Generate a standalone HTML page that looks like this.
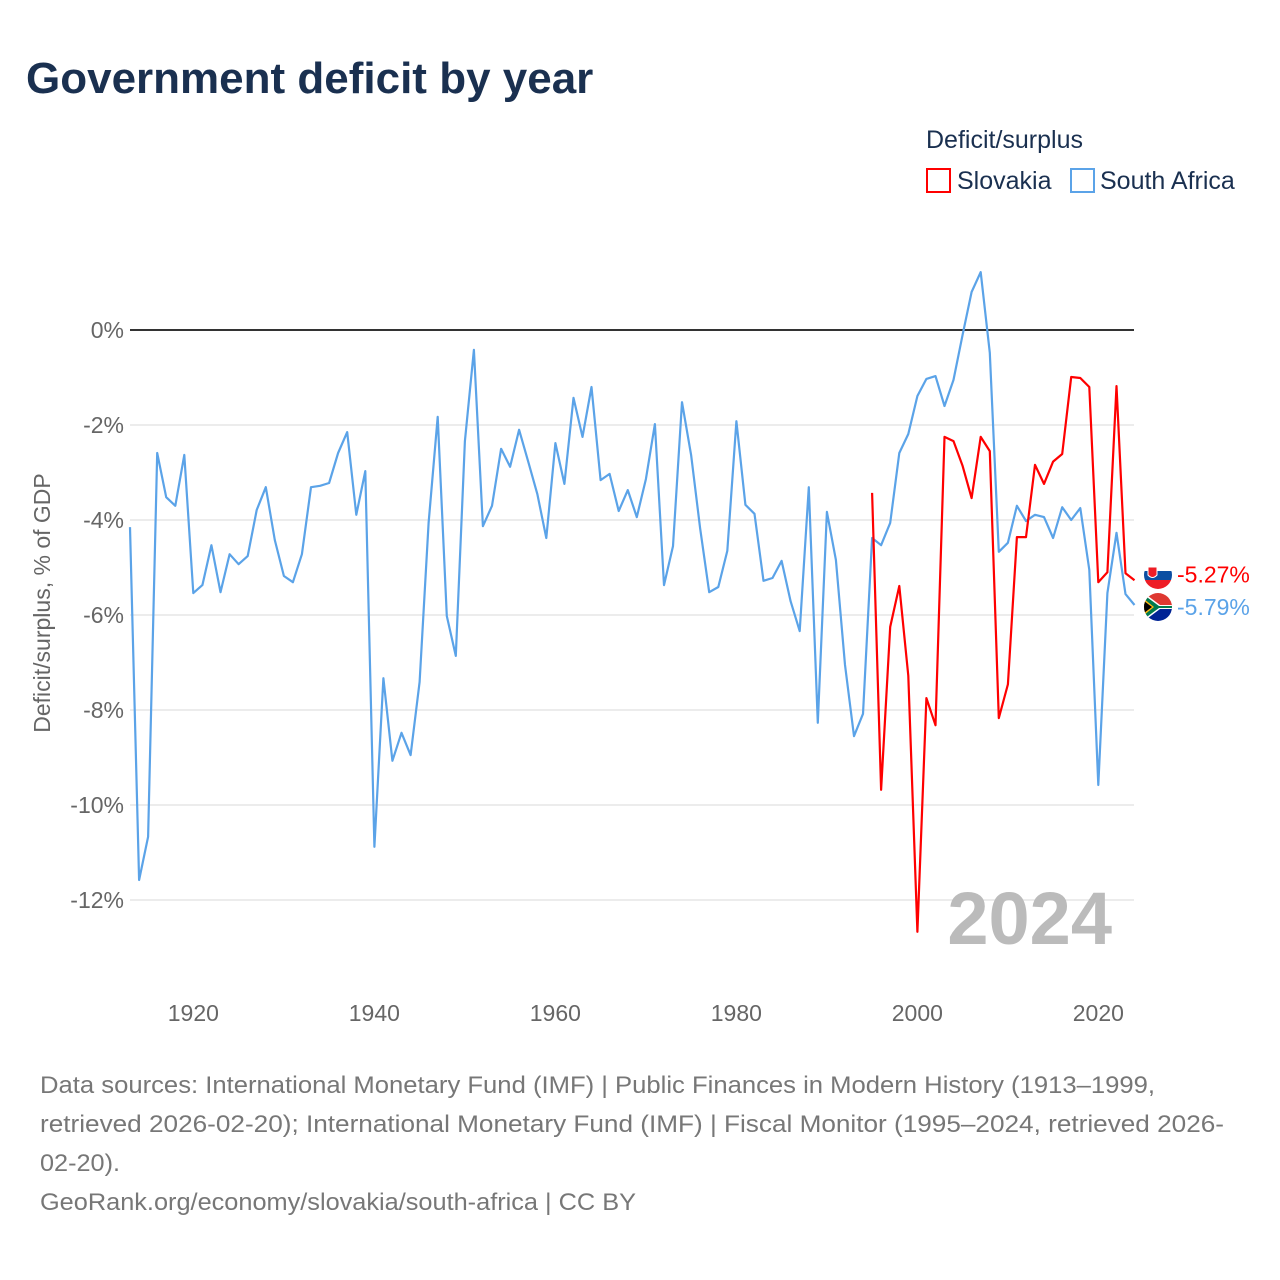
<!DOCTYPE html>
<html><head><meta charset="utf-8">
<style>
body{margin:0;background:#fff;font-family:"Liberation Sans",sans-serif;}
svg{display:block}
</style></head>
<body>
<svg width="1280" height="1280" viewBox="0 0 1280 1280" id="chart">
<defs>
<clipPath id="c1"><circle cx="1158" cy="575" r="14"/></clipPath>
<clipPath id="c2"><circle cx="1158" cy="607" r="14"/></clipPath>
</defs>
<rect width="1280" height="1280" fill="#fff"/>
<text x="26" y="93" font-size="44" font-weight="bold" fill="#1a3050">Government deficit by year</text>
<text x="926" y="148" font-size="25" fill="#1a3050">Deficit/surplus</text>
<g><rect x="927" y="169" width="23" height="23" fill="none" stroke="#f00" stroke-width="2"/><text x="957" y="189" font-size="25" fill="#1a3050">Slovakia</text></g>
<g><rect x="1071" y="169" width="23" height="23" fill="none" stroke="#5ba3e8" stroke-width="2"/><text x="1100" y="189" font-size="25" fill="#1a3050">South Africa</text></g>
<text transform="translate(50,603) rotate(-90)" text-anchor="middle" font-size="23" fill="#666">Deficit/surplus, % of GDP</text>
<g id="grid"></g>
<text x="1112" y="944" text-anchor="end" font-size="74" font-weight="bold" fill="#bbb">2024</text>
<g id="series"></g>
<g font-size="24" fill="#777">
<text x="40" y="1093" textLength="1115" lengthAdjust="spacingAndGlyphs">Data sources: International Monetary Fund (IMF) | Public Finances in Modern History (1913–1999,</text>
<text x="40" y="1132" textLength="1184" lengthAdjust="spacingAndGlyphs">retrieved 2026-02-20); International Monetary Fund (IMF) | Fiscal Monitor (1995–2024, retrieved 2026-</text>
<text x="40" y="1171" textLength="80" lengthAdjust="spacingAndGlyphs">02-20).</text>
<text x="40" y="1210" textLength="596" lengthAdjust="spacingAndGlyphs">GeoRank.org/economy/slovakia/south-africa | CC BY</text>
</g>
</svg>
<script>
const yTicks=[0,-2,-4,-6,-8,-10,-12];
const xTicks=[1920,1940,1960,1980,2000,2020];
const saStart=1913;
const southAfrica=[-4.15,-11.58,-10.67,-2.59,-3.52,-3.7,-2.63,-5.54,-5.37,-4.53,-5.52,-4.72,-4.93,-4.76,-3.79,-3.31,-4.42,-5.18,-5.31,-4.72,-3.31,-3.28,-3.22,-2.59,-2.15,-3.89,-2.97,-10.88,-7.33,-9.07,-8.48,-8.95,-7.41,-4.06,-1.83,-6.02,-6.86,-2.34,-0.42,-4.13,-3.7,-2.5,-2.88,-2.1,-2.77,-3.45,-4.38,-2.38,-3.24,-1.43,-2.25,-1.2,-3.16,-3.03,-3.81,-3.37,-3.94,-3.14,-1.98,-5.37,-4.55,-1.52,-2.63,-4.17,-5.52,-5.41,-4.65,-1.92,-3.68,-3.87,-5.28,-5.22,-4.86,-5.71,-6.34,-3.31,-8.27,-3.83,-4.84,-7.05,-8.55,-8.08,-4.38,-4.53,-4.06,-2.59,-2.19,-1.39,-1.03,-0.97,-1.6,-1.05,-0.1,0.8,1.22,-0.48,-4.67,-4.48,-3.7,-4.02,-3.89,-3.94,-4.38,-3.73,-4.0,-3.75,-5.05,-9.58,-5.54,-4.27,-5.56,-5.79];
const skStart=1995;
const slovakia=[-3.43,-9.68,-6.25,-5.39,-7.28,-12.67,-7.75,-8.32,-2.25,-2.34,-2.86,-3.54,-2.25,-2.55,-8.17,-7.46,-4.36,-4.36,-2.84,-3.24,-2.77,-2.61,-0.99,-1.01,-1.2,-5.31,-5.1,-1.18,-5.12,-5.27];
const X=yr=>130+(yr-1913)*(1098-193)/100;
const Y=v=>330-v*47.5;
const NS="http://www.w3.org/2000/svg";
function mk(t,a,p){const e=document.createElementNS(NS,t);for(const k in a)e.setAttribute(k,a[k]);p.appendChild(e);return e;}
const grid=document.getElementById('grid');
yTicks.forEach(v=>{
  const l=mk('line',{x1:130,x2:1134,y1:Y(v),y2:Y(v),stroke:v===0?'#333':'#e6e6e6','stroke-width':v===0?2:1.5},grid);
  
  
  const t=mk('text',{x:124,y:Y(v)+8,'text-anchor':'end','font-size':23,fill:'#666'},grid);
  t.textContent=v+'%';
  
  
});
xTicks.forEach(yr=>{
  const t=mk('text',{x:X(yr),y:1021,'text-anchor':'middle','font-size':23,fill:'#666'},grid);
  t.textContent=yr;
  
  
});
const sg=document.getElementById('series');
function line(data,start,color,name){
  const pts=data.map((v,i)=>X(start+i).toFixed(1)+','+Y(v).toFixed(1)).join(' ');
  const p=mk('polyline',{points:pts,fill:'none',stroke:color,'stroke-width':2.2,'stroke-linejoin':'round'},sg);
  
  
}
line(southAfrica,saStart,'#5ba3e8','series-south-africa');
line(slovakia,skStart,'#f00','series-slovakia');
const skLast=slovakia[slovakia.length-1], saLast=southAfrica[southAfrica.length-1];
// Slovakia flag
const f1=mk('g',{'clip-path':'url(#c1)'},sg);


mk('rect',{x:1144,y:561,width:28,height:10,fill:'#fff'},f1);
mk('rect',{x:1144,y:571,width:28,height:9,fill:'#0b4ea2'},f1);
mk('rect',{x:1144,y:580,width:28,height:10,fill:'#ee1c25'},f1);
mk('path',{d:'M1148 567 h9 v8 q-4.5 5 -9 0 z',fill:'#ee1c25',stroke:'#fff','stroke-width':1},f1);
// South Africa flag
const f2=mk('g',{'clip-path':'url(#c2)'},sg);


mk('rect',{x:1144,y:593,width:28,height:14,fill:'#de3831'},f2);
mk('rect',{x:1144,y:607,width:28,height:14,fill:'#002395'},f2);
mk('path',{d:'M1144 593 L1160 605 H1172 V609 H1160 L1144 621 Z',fill:'#fff'},f2);
mk('path',{d:'M1144 595 L1159 606 H1172 V608 H1159 L1144 619 Z',fill:'#007a4d'},f2);
mk('path',{d:'M1144 599 L1154 607 L1144 615 Z',fill:'#ffb612'},f2);
mk('path',{d:'M1144 601 L1152 607 L1144 613 Z',fill:'#000'},f2);
const t1=mk('text',{x:1177,y:Y(skLast)+2,'font-size':23,fill:'#f00'},sg);
t1.textContent=skLast.toFixed(2)+'%';


const t2=mk('text',{x:1177,y:Y(saLast)+10,'font-size':23,fill:'#5ba3e8'},sg);
t2.textContent=saLast.toFixed(2)+'%';


</script>
</body></html>
